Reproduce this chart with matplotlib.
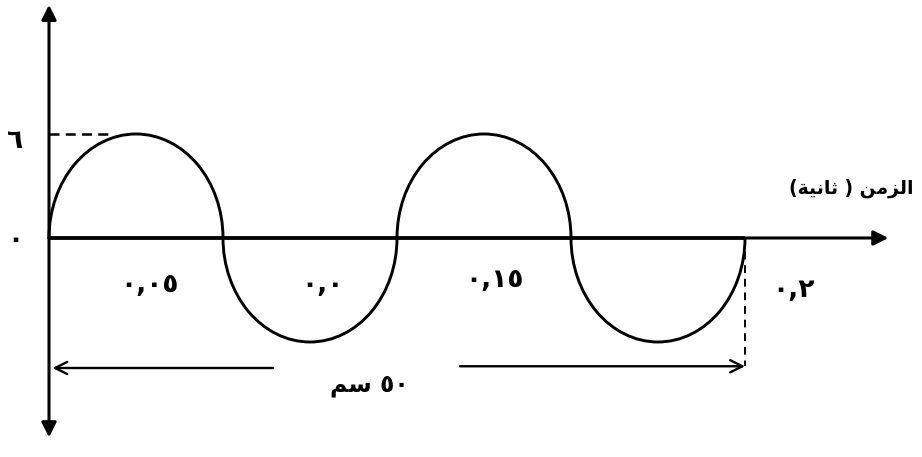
import matplotlib

matplotlib.use("Agg")
import matplotlib.pyplot as plt
from matplotlib.patches import Arc

# wave: zero crossings (s) and amplitude
crossings = [0.0, 0.05, 0.1, 0.15, 0.2]
amplitude = 6

# labels under the time axis (as printed in the figure)
tick_texts = ["٠,٠٥", "٠,٠", "٠,١٥", "٠,٢"]
tick_pos = [(0.029, -2.7), (0.0785, -2.7), (0.128, -2.4), (0.214, -3.0)]
y_texts = ["٦", "٠"]
y_pos = [(-0.0098, 5.6), (-0.0098, -0.1)]

# minimal arabic shaper: (isolated, final, initial, medial)
FORMS = {
    "ا": (0xFE8D, 0xFE8E, None, None),
    "ل": (0xFEDD, 0xFEDE, 0xFEDF, 0xFEE0),
    "ز": (0xFEAF, 0xFEB0, None, None),
    "م": (0xFEE1, 0xFEE2, 0xFEE3, 0xFEE4),
    "ن": (0xFEE5, 0xFEE6, 0xFEE7, 0xFEE8),
    "ث": (0xFE99, 0xFE9A, 0xFE9B, 0xFE9C),
    "ي": (0xFEF1, 0xFEF2, 0xFEF3, 0xFEF4),
    "ة": (0xFE93, 0xFE94, None, None),
    "س": (0xFEB1, 0xFEB2, 0xFEB3, 0xFEB4),
}


def ar(word):
    out = []
    for i, ch in enumerate(word):
        iso, fin, ini, med = FORMS[ch]
        prev_joins = i > 0 and FORMS[word[i - 1]][2] is not None
        next_joins = i < len(word) - 1 and ini is not None
        if prev_joins and next_joins:
            out.append(med)
        elif prev_joins:
            out.append(fin)
        elif next_joins:
            out.append(ini)
        else:
            out.append(iso)
    return "".join(chr(c) for c in reversed(out))


time_label = "(" + ar("ثانية") + " ) " + ar("الزمن")
length_label = ar("سم") + " ٥٠"

fig = plt.figure(figsize=(9.22, 4.57), dpi=100)
ax = fig.add_axes([0, 0, 1, 1])
ax.set_xlim(-0.01408, 0.25086)
ax.set_ylim(-12.635, 13.73)
ax.axis("off")

font = dict(family=["DejaVu Sans"], fontweight="bold", color="black")
axis_arrow = dict(arrowstyle="-|>", color="black", lw=2.2, mutation_scale=22, shrinkA=0, shrinkB=0)

# axes
ax.annotate("", xy=(0, 13.45), xytext=(0, 0), arrowprops=axis_arrow)
ax.annotate("", xy=(0, -11.5), xytext=(0, 0), arrowprops=axis_arrow)
ax.annotate("", xy=(0.2412, 0), xytext=(0, 0), arrowprops=axis_arrow)
ax.plot([0, crossings[-1]], [0, 0], color="black", lw=2.6, solid_capstyle="butt")

# wave built from half ellipses
for i in range(len(crossings) - 1):
    a, b = crossings[i], crossings[i + 1]
    up = i % 2 == 0
    ax.add_patch(
        Arc(
            ((a + b) / 2, 0), b - a, 2 * amplitude,
            theta1=0 if up else 180, theta2=180 if up else 360,
            color="black", lw=2.1,
        )
    )

# dashed guides
ax.plot([0, 0.0175], [amplitude, amplitude], color="black", lw=1.8, ls=(0, (4, 2.5)))
ax.plot([crossings[-1], crossings[-1]], [0, -7.4], color="black", lw=1.4, ls=(0, (4, 3)))

# dimension line for 50 cm
dim_arrow = dict(arrowstyle="->", color="black", lw=1.7, mutation_scale=22, shrinkA=0, shrinkB=0)
ax.annotate("", xy=(0.001, -7.5), xytext=(0.0644, -7.5), arrowprops=dim_arrow)
ax.annotate("", xy=(crossings[-1], -7.4), xytext=(0.1181, -7.4), arrowprops=dim_arrow)
ax.text(0.0922, -8.5, length_label, ha="center", va="center", fontsize=17, **font)

for txt, (x, y) in zip(tick_texts, tick_pos):
    ax.text(x, y, txt, ha="center", va="center", fontsize=19, **font)
for txt, (x, y) in zip(y_texts, y_pos):
    ax.text(x, y, txt, ha="center", va="center", fontsize=19, **font)

ax.text(0.2483, 2.85, time_label, ha="right", va="center", fontsize=13.5, **font)

fig.savefig("out.png", dpi=100)
